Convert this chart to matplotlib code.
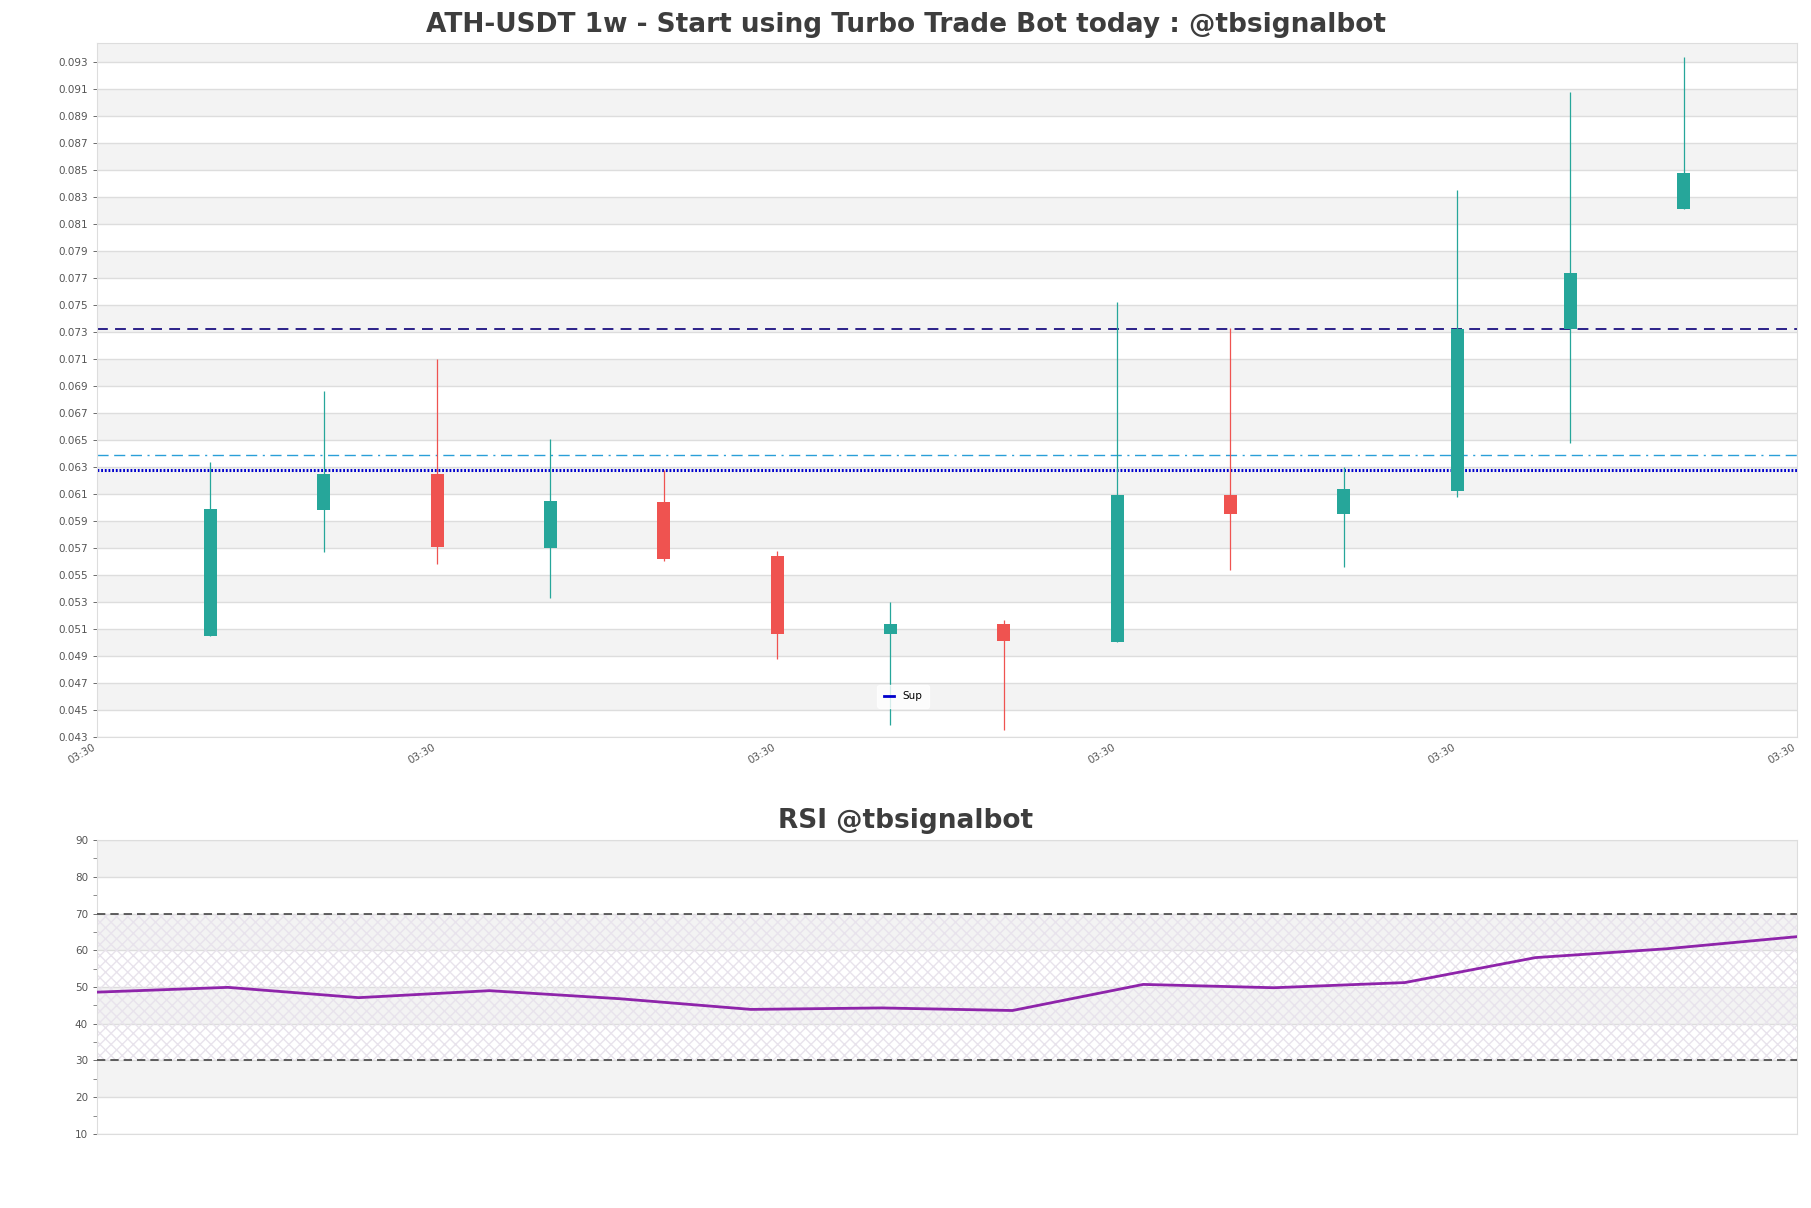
import matplotlib
matplotlib.use("Agg")
import matplotlib.pyplot as plt
from matplotlib.lines import Line2D
import numpy as np

# ---- data ----
x_labels = ["03:30"] * 6
opens  = [0.0505, 0.0598, 0.0625, 0.0570, 0.0604, 0.0564, 0.0506, 0.0514, 0.0500, 0.0609, 0.0595, 0.0612, 0.0732, 0.0821]
closes = [0.0599, 0.0625, 0.0571, 0.0605, 0.0562, 0.0506, 0.0514, 0.0501, 0.0609, 0.0595, 0.0614, 0.0732, 0.0774, 0.0848]
highs  = [0.0634, 0.0686, 0.0710, 0.0651, 0.0628, 0.0568, 0.0530, 0.0517, 0.0752, 0.0733, 0.0630, 0.0835, 0.0908, 0.0934]
lows   = [0.0505, 0.0567, 0.0558, 0.0533, 0.0560, 0.0488, 0.0439, 0.0435, 0.0500, 0.0554, 0.0556, 0.0608, 0.0648, 0.0821]
rsi    = [48.6, 49.9, 47.1, 49.0, 46.8, 43.9, 44.3, 43.6, 50.7, 49.8, 51.2, 58.0, 60.4, 63.7]
line_sup = 0.06276
line_mid = 0.06389
line_res = 0.07320

UP = "#26a69a"
DOWN = "#ef5350"
GRAY_BAND = "#f3f3f3"
TXT = "#3d3d3d"

fig = plt.figure(figsize=(18.11, 12.08), dpi=100)
ax = fig.add_axes([0.0536, 0.3899, 0.9387, 0.5745])
ax2 = fig.add_axes([0.0536, 0.0613, 0.9387, 0.2433])

# ---- main candlestick axes ----
ylo, yhi = 0.043, 0.0944
ticks = np.arange(0.043, 0.0935, 0.002)
for t in ticks:
    if round((t - 0.045) / 0.004, 6) == round((t - 0.045) / 0.004):
        ax.axhspan(t, t + 0.002, color=GRAY_BAND, zorder=0, lw=0)
ax.set_ylim(ylo, yhi)
ax.set_xlim(-1, 14)
ax.set_yticks(ticks)
ax.set_yticklabels([f"{t:.3f}" for t in ticks])
ax.yaxis.grid(True, color="#dddddd", lw=1)
ax.set_axisbelow(True)

n = len(opens)
xs = np.arange(n)
for i in range(n):
    c = UP if closes[i] >= opens[i] else DOWN
    ax.vlines(xs[i], lows[i], highs[i], color=c, lw=0.9, zorder=3)
    b = min(opens[i], closes[i])
    h = abs(closes[i] - opens[i])
    ax.bar(xs[i], h, bottom=b, width=0.115, color=c, zorder=4, lw=0)

ax.axhline(line_res, color="#1c1080", lw=1.3, ls=(0, (6, 4)), zorder=2)
ax.axhline(line_mid, color="#2a9fd8", lw=1.0, ls=(0, (8, 4, 8, 4, 8, 4, 1.5, 4)), zorder=2)
ax.axhline(line_sup, color="#0000cc", lw=2.2, ls=(0, (0.6, 0.6)), zorder=2)

ax.set_xticks([-1, 2, 5, 8, 11, 14])
ax.set_xticklabels(x_labels, rotation=30, ha="right", fontsize=7.5, color="#555555")
ax.tick_params(axis="y", labelsize=7.5, colors="#555555", length=3, width=0.6)
ax.tick_params(axis="x", length=0)
for s in ax.spines.values():
    s.set_color("#dddddd")
fig.text(0.5, 0.979, "ATH-USDT 1w - Start using Turbo Trade Bot today : @tbsignalbot",
         fontsize=19, fontweight="bold", color=TXT, ha="center", va="center")

leg = ax.legend(handles=[Line2D([0], [0], color="#0000cc", lw=2)], labels=["Sup"],
                loc="lower left", bbox_to_anchor=(0.456, 0.035), fontsize=7.5,
                frameon=True, handlelength=1.0, borderpad=0.6)
leg.get_frame().set_edgecolor("white")
leg.get_frame().set_facecolor("white")

# ---- RSI axes ----
for lo in (20, 40, 60, 80):
    ax2.axhspan(lo, lo + 10, color=GRAY_BAND, zorder=0, lw=0)
ax2.axhspan(30, 70, facecolor="none", hatch="xxx", edgecolor="#e8e3ec", lw=0, zorder=1)
ax2.set_ylim(10, 90)
ax2.set_xlim(0, n - 1)
ax2.set_yticks(np.arange(10, 91, 10))
ax2.set_yticks(np.arange(15, 90, 10), minor=True)
ax2.yaxis.grid(True, which="major", color="#dddddd", lw=1)
ax2.set_axisbelow(True)
ax2.axhline(70, color="#444444", lw=1.2, ls=(0, (5, 3)), zorder=3)
ax2.axhline(30, color="#444444", lw=1.2, ls=(0, (5, 3)), zorder=3)
ax2.plot(xs, rsi, color="#8e24aa", lw=2, zorder=4)
ax2.set_xticks([])
ax2.tick_params(axis="y", labelsize=7.5, colors="#555555", length=3, width=0.6)
ax2.tick_params(axis="y", which="minor", length=3, width=0.6, colors="#777777")
for s in ax2.spines.values():
    s.set_color("#dddddd")
fig.text(0.5, 0.320, "RSI @tbsignalbot", fontsize=19, fontweight="bold", color=TXT,
         ha="center", va="center")

fig.savefig("out.png", dpi=100, facecolor="white")
